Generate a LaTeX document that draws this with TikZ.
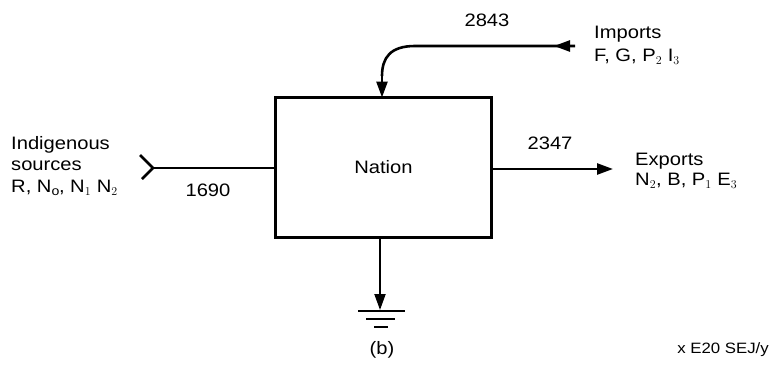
\documentclass[tikz,border=0pt]{standalone}
\usepackage{fontspec}
\setmainfont{Liberation Sans}[FakeStretch=1.12]
\usetikzlibrary{arrows.meta}
\begin{document}
\begin{tikzpicture}[x=1pt,y=-1pt,
  lbl/.style={font=\fontsize{18}{21}\selectfont, inner sep=0pt},
  lblL/.style={lbl, anchor=west, align=left},
  flow/.style={line width=2.6pt},
  tip/.style={-{Triangle[length=16pt,width=11pt]}}]
\useasboundingbox (0,0) rectangle (771,367);
% box
\node[draw, line width=3pt, minimum width=216pt, minimum height=140pt, inner sep=0pt,
      font=\fontsize{18}{21}\selectfont] (nation) at (383.5,167.5) {Nation};
% left source
\coordinate (chev) at (153,168);
\draw[flow] (140,155) -- (chev) -- (142,179);
\draw[flow] (chev) -- (nation.west |- chev);
\node[lblL] (ind) at (11,145) {Indigenous};
\node[lblL] (src) at (11,166) {sources};
\node[lblL] (rnn) at (11,188) {R, N$_{\mathrm{o}}$, N$_1$ N$_2$};
\node[lbl] (v1690) at (208,190) {1690};
% exports
\coordinate (expend) at (613,169);
\draw[flow, tip] (nation.east |- expend) -- (expend);
\node[lbl] (v2347) at (550,143) {2347};
\node[lblL] (exp1) at (635,161) {Exports};
\node[lblL] (exp2) at (635,181) {N$_2$, B, P$_1$ E$_3$};
% imports
\coordinate (impstart) at (575,46);
\coordinate (impmid) at (554,46);
\coordinate (imptop) at (382,97);
\draw[flow] (impstart) -- (415,46) .. controls (390,46) and (382,58) .. (382,76);
\draw[flow, tip] (382,70) -- (382,97.5);
\draw[flow, tip] (impstart) -- (impmid);
\node[lbl] (v2843) at (487,20) {2843};
\node[lblL] (imp1) at (594,34) {Imports};
\node[lblL] (imp2) at (594,57) {F, G, P$_2$ I$_3$};
% heat sink
\coordinate (gnd) at (380,310);
\draw[line width=2pt, tip] (nation.south -| gnd) -- (gnd);
\draw[line width=2.6pt] (358,311) -- (405,311);
\draw[line width=2.6pt] (366,319) -- (395,319);
\draw[line width=2.6pt] (374,327) -- (388,327);
% captions
\node[lbl] (cap) at (382,350) {(b)};
\node[lbl, anchor=east, font=\fontsize{15}{18}\selectfont] (units) at (769,350) {x E20 SEJ/y};
\end{tikzpicture}
\end{document}
